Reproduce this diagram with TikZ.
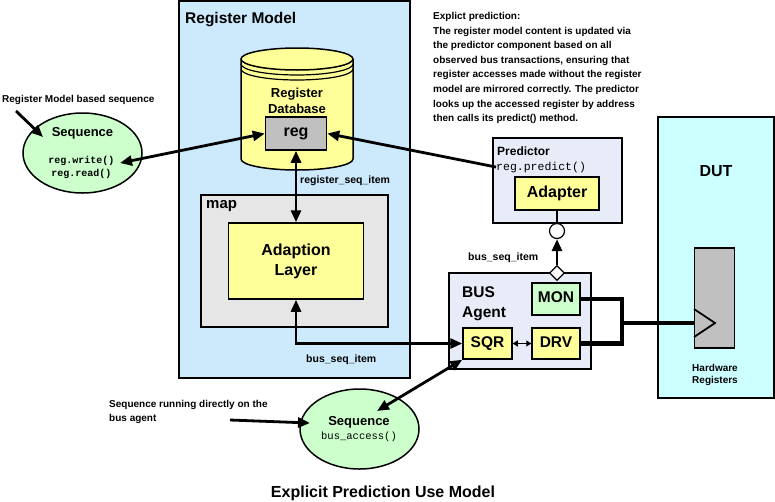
\documentclass[tikz,border=0pt]{standalone}
\usepackage{fontspec}
\setmainfont{Liberation Sans}
\setmonofont{Liberation Mono}
\usetikzlibrary{arrows.meta,shapes.geometric}
\definecolor{modelblue}{RGB}{204,234,252}
\definecolor{mapgray}{RGB}{230,230,230}
\definecolor{boxyellow}{RGB}{255,255,153}
\definecolor{reggray}{RGB}{192,192,192}
\definecolor{seqgreen}{RGB}{204,255,204}
\definecolor{agentlilac}{RGB}{232,236,248}
\definecolor{dutcyan}{RGB}{204,255,255}

\begin{document}
\begin{tikzpicture}[x=1pt,y=-1pt,
  blk/.style={draw,line width=1.5pt,inner sep=0pt,font=\bfseries},
  captext/.style={text height=0.72em,text depth=0pt},
  seqell/.style={draw,ellipse,line width=1.5pt,fill=seqgreen,
    minimum width=119pt,minimum height=80pt},
  txt/.style={inner sep=0pt,font=\fontsize{10}{14}\selectfont\bfseries},
  link/.style={line width=2.8pt,-{Triangle[length=12pt,width=10pt]}},
  dlink/.style={line width=2.8pt,
    {Triangle[length=12pt,width=10pt]}-{Triangle[length=12pt,width=10pt]}},
  bus/.style={line width=4.5pt},
]
\useasboundingbox (0,0) rectangle (775,501);

% register model
\node[blk,fill=modelblue,minimum width=231pt,minimum height=377pt] (model) at (294.5,189.5) {};
\node[txt,font=\fontsize{15.5}{18}\selectfont\bfseries,anchor=base west] (modeltitle) at (185,23) {Register Model};

\fill[boxyellow] (241,59) -- (241,159) arc[start angle=180,end angle=360,x radius=56pt,y radius=11pt] -- (353,59) -- cycle;
\draw[line width=1.5pt] (241,59) -- (241,159) arc[start angle=180,end angle=360,x radius=56pt,y radius=11pt] -- (353,59);
\draw[line width=1.5pt,fill=boxyellow] (297,59) ellipse[x radius=56pt,y radius=11pt];
\foreach \d in {5,10}
  \draw[line width=1.2pt] (241,59+\d) arc[start angle=180,end angle=360,x radius=56pt,y radius=11pt];

\node[txt,font=\fontsize{13}{16}\selectfont\bfseries,align=center] (regdb) at (297,101) {Register\\Database};
\node[blk,fill=reggray,minimum width=61pt,minimum height=33pt,font=\fontsize{16}{18}\selectfont\bfseries] (reg) at (296,133.5) {reg};
\node[txt,font=\fontsize{10.5}{12}\selectfont\bfseries,anchor=base west] (reglbl) at (300,183) {register\_seq\_item};

\node[blk,fill=mapgray,minimum width=187pt,minimum height=132pt] (map) at (294.5,261) {};
\node[txt,font=\fontsize{15}{18}\selectfont\bfseries,anchor=base west] (maptitle) at (206,208) {map};
\node[blk,fill=boxyellow,minimum width=135pt,minimum height=76pt,align=center,font=\fontsize{16}{20}\selectfont\bfseries] (adapt) at (296,261) {Adaption\\Layer};
\node[txt,font=\fontsize{10.5}{12}\selectfont\bfseries,anchor=base west] (buslbl) at (306,362) {bus\_seq\_item};

% predictor
\node[blk,fill=agentlilac,minimum width=129pt,minimum height=85pt] (pred) at (557.5,180.5) {};
\node[txt,font=\fontsize{12}{14}\selectfont\bfseries,anchor=base west] (predtitle) at (497,155) {Predictor};
\node[txt,font=\fontsize{11.5}{14}\selectfont\ttfamily,anchor=base west] (predict) at (496,170) {reg.predict()};
\node[blk,captext,fill=boxyellow,minimum width=84pt,minimum height=33pt,font=\fontsize{16}{18}\selectfont\bfseries] (adapter) at (557,193.5) {Adapter};
\node[txt,font=\fontsize{10.5}{12}\selectfont\bfseries,anchor=base west] (monlbl) at (468,260) {bus\_seq\_item};

% bus agent
\node[blk,fill=agentlilac,minimum width=142pt,minimum height=96pt] (agent) at (520,321) {};
\node[txt,font=\fontsize{15.5}{20}\selectfont\bfseries,align=left,anchor=north west] (agenttitle) at (462,286) {BUS\\Agent};
\node[blk,captext,fill=seqgreen,minimum width=48pt,minimum height=32pt,font=\fontsize{15.5}{18}\selectfont\bfseries] (mon) at (556,299) {MON};
\node[blk,captext,fill=boxyellow,minimum width=49pt,minimum height=31pt,font=\fontsize{15.5}{18}\selectfont\bfseries] (sqr) at (487.5,343.5) {SQR};
\node[blk,captext,fill=boxyellow,minimum width=48pt,minimum height=31pt,font=\fontsize{15.5}{18}\selectfont\bfseries] (drv) at (556,343.5) {DRV};

% dut
\node[blk,fill=dutcyan,minimum width=116pt,minimum height=281pt] (dut) at (716,257.5) {};
\node[txt,font=\fontsize{16}{18}\selectfont\bfseries,anchor=base] (duttitle) at (716,176) {DUT};
\node[blk,fill=reggray,minimum width=40pt,minimum height=100pt] (hwreg) at (714.5,298) {};
\draw[line width=1.8pt] (694,309) -- (715,323) -- (694,337);
\node[txt,font=\fontsize{10}{12}\selectfont\bfseries,align=center,anchor=north] (hwlbl) at (715,364) {Hardware\\Registers};

% sequences
\node[seqell] (seqreg) at (82.5,153) {};
\node[txt,font=\fontsize{13}{16}\selectfont\bfseries] (seqregtitle) at (82.5,133) {Sequence};
\node[txt,font=\fontsize{10}{13}\selectfont\ttfamily\bfseries,align=center] (seqregcalls) at (81.5,167.5) {reg.write()\\reg.read()};
\node[txt,anchor=base west] (seqreglbl) at (2,102) {Register Model based sequence};

\node[seqell] (seqbus) at (359.5,429) {};
\node[txt,font=\fontsize{13}{16}\selectfont\bfseries] (seqbustitle) at (359,422) {Sequence};
\node[txt,font=\fontsize{10.5}{13}\selectfont\ttfamily] (seqbuscall) at (359,437) {bus\_access()};
\node[txt,align=left,anchor=north west] (seqbuslbl) at (109,400) {Sequence running directly on the\\bus agent};

\node[txt,font=\fontsize{10}{14.6}\selectfont\bfseries,align=left,anchor=north west] (note) at (433,12)
  {Explict prediction:\\
   The register model content is updated via\\
   the predictor component based on all\\
   observed bus transactions, ensuring that\\
   register accesses made without the register\\
   model are mirrored correctly. The predictor\\
   looks up the accessed register by address\\
   then calls its predict() method.};

\node[txt,font=\fontsize{16}{18}\selectfont\bfseries,anchor=base] (title) at (383,497) {Explicit Prediction Use Model};

% connectors
\coordinate (seqregtip) at (120,163);
\coordinate (seqregtail) at (16,111);
\coordinate (seqregin) at (43,137);
\coordinate (seqbustail) at (230,420);
\coordinate (seqbusin) at (310,423);
\coordinate (seqbustip) at (377,411);
\coordinate (junc) at (622,323);

\draw[dlink] (seqregtip) -- (reg.west);
\draw[link] (predict.west) -- (reg.east);
\draw[dlink] (reg.south) -- (adapt.north);
\draw[dlink] (adapt.south) |- (sqr.west);
\draw[line width=1.4pt,{Triangle[length=5pt,width=6pt]}-{Triangle[length=5pt,width=6pt]}] (sqr.east) -- (drv.west);
\draw[dlink] (seqbustip) -- (sqr.south west);
\draw[link] (seqregtail) -- (seqregin);
\draw[link] (seqbustail) -- (seqbusin);
\draw[bus] (mon.east) -| (junc) |- (drv.east);
\draw[bus] (junc) -- (junc -| hwreg.west);

\node[draw,circle,fill=white,line width=1.2pt,minimum size=15pt,inner sep=0pt] (tap) at (557,231) {};
\node[draw,diamond,fill=white,line width=1.2pt,minimum size=15pt,inner sep=0pt] (dia) at (557,273) {};
\draw[line width=2.8pt] (adapter.south) -- (tap.north);
\draw[link] (dia.north) -- (tap.south);
\end{tikzpicture}
\end{document}
